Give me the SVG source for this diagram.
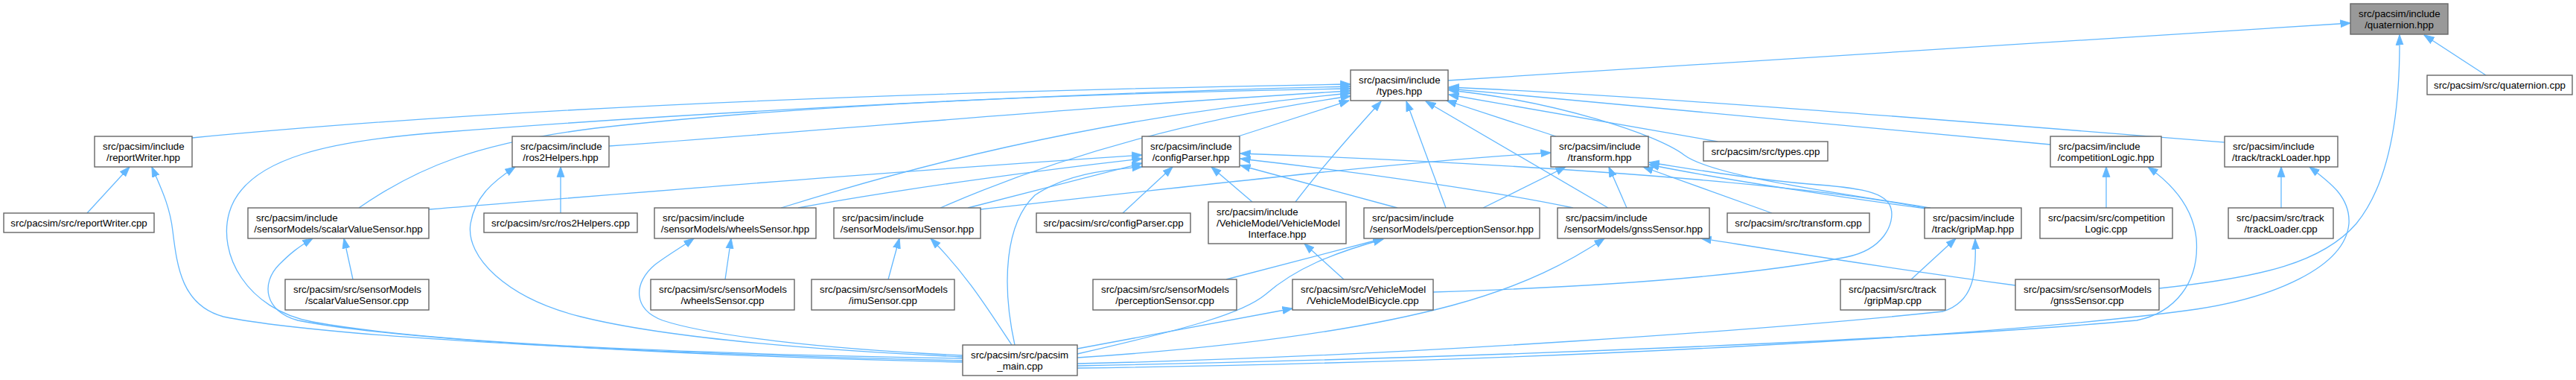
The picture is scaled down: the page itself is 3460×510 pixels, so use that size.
<svg xmlns="http://www.w3.org/2000/svg" width="3460" height="510" viewBox="0 0 3460 510">
<style>
.n rect{fill:#ffffff;stroke:#666666;stroke-width:1.4}
.root rect{fill:#999999}
.n text{font-family:"Liberation Sans",Arial,Helvetica,sans-serif;font-size:13.33px;fill:#000000}
.c{text-anchor:middle}
.e path{fill:none;stroke:#63b8ff;stroke-width:1.3;marker-end:url(#arr)}
</style>
<defs>
<marker id="arr" markerUnits="userSpaceOnUse" markerWidth="14" markerHeight="12" viewBox="0 0 14 12" refX="13.5" refY="6" orient="auto">
<path d="M0,1 L14,6 L0,11 z" fill="#63b8ff" stroke="#63b8ff" stroke-width="0.8"/>
</marker>
</defs>
<rect width="3460" height="510" fill="#ffffff"/>
<g id="edges" class="e">
<path d="M1945,108 L3157,31"/>
<path d="M3339,101 L3256,47"/>
<path d="M2900,387 C3040,372 3120,352 3165,300 C3210,245 3224,150 3223,47"/>
<path d="M258,185 C600,152 1100,125 1814,113"/>
<path d="M1293,481 C1000,476 600,465 420,432 C330,415 292,340 308,285 C330,210 450,188 600,177 C950,150 1450,124 1814,116"/>
<path d="M482,279 C560,225 640,192 800,172 C1100,138 1500,124 1814,119"/>
<path d="M818,196 C1150,172 1500,140 1814,122"/>
<path d="M1049,279 C1200,232 1450,160 1814,125"/>
<path d="M1263,279 C1380,228 1560,165 1814,129"/>
<path d="M1663,183 L1812,135"/>
<path d="M1740,271 C1775,225 1815,180 1855,136"/>
<path d="M1942,279 L1889,136"/>
<path d="M2160,279 L1915,136"/>
<path d="M2090,183 L1943,135"/>
<path d="M2307,190 L1946,127"/>
<path d="M2593,279 C2450,256 2300,236 2262,208 C2225,180 2090,136 1946,121"/>
<path d="M2754,194 L1946,119"/>
<path d="M2988,191 C2600,160 2200,128 1946,117"/>
<path d="M576,281 C900,255 1200,230 1534,208"/>
<path d="M1072,279 C1200,255 1400,228 1534,213"/>
<path d="M1300,279 L1534,219"/>
<path d="M1363,463 C1345,380 1350,300 1390,262 C1430,235 1480,228 1534,224"/>
<path d="M1508,286 L1575,224"/>
<path d="M1682,271 L1627,224"/>
<path d="M1877,279 L1666,222"/>
<path d="M2113,279 C2000,255 1800,228 1666,213"/>
<path d="M2590,280 C2400,242 2000,218 1666,206"/>
<path d="M1317,281 C1600,250 1900,215 2083,205"/>
<path d="M1992,279 L2103,224"/>
<path d="M2185,279 L2161,224"/>
<path d="M2380,286 L2207,224"/>
<path d="M2595,281 C2450,262 2300,238 2215,221"/>
<path d="M1925,392 C2150,385 2350,370 2480,345 C2530,335 2545,300 2540,280 C2535,258 2500,252 2430,247 C2350,240 2280,228 2215,218"/>
<path d="M1805,375 L1752,327"/>
<path d="M1647,375 L1858,320"/>
<path d="M1447,475 C1600,440 1670,420 1700,395 C1740,360 1790,340 1858,321"/>
<path d="M1447,480 C1600,470 1800,450 1950,410 C2050,383 2110,350 2155,320"/>
<path d="M2707,383 C2500,355 2350,330 2285,320"/>
<path d="M1447,468 L1736,414"/>
<path d="M2567,375 L2627,320"/>
<path d="M1447,488 C1900,478 2400,440 2610,418 C2650,405 2655,370 2653,321"/>
<path d="M2829,279 L2829,224"/>
<path d="M1447,491 C2000,480 2600,455 2870,430 C2920,420 2955,380 2950,320 C2945,275 2915,245 2885,224"/>
<path d="M1447,494 C2100,485 2700,450 2950,415 C3050,400 3150,360 3155,300 C3157,265 3130,245 3102,224"/>
<path d="M3064,279 L3064,224"/>
<path d="M117,286 L174,224"/>
<path d="M1293,484 C900,475 450,455 300,425 C245,410 238,360 232,310 C228,275 215,250 204,224"/>
<path d="M474,375 L462,320"/>
<path d="M1293,486 C1000,480 550,460 400,430 C355,418 350,380 375,355 C390,340 400,332 420,320"/>
<path d="M753,286 L753,224"/>
<path d="M1293,479 C1100,470 900,455 780,425 C680,400 625,345 632,300 C638,265 660,245 692,224"/>
<path d="M974,375 L982,320"/>
<path d="M1293,477 C1100,468 950,450 890,430 C850,415 850,380 880,355 C900,340 915,332 932,320"/>
<path d="M1193,375 L1208,320"/>
<path d="M1359,463 C1330,420 1300,370 1250,320"/>
</g>
<g id="node-quaternion-hpp" class="n root"><rect x="3157" y="5" width="131" height="41"/><text x="3168" y="23">src/pacsim/include</text><text class="c" x="3222.5" y="38">/quaternion.hpp</text></g>
<g id="node-types-hpp" class="n"><rect x="1814" y="94" width="131" height="41"/><text x="1825" y="112">src/pacsim/include</text><text class="c" x="1879.5" y="127">/types.hpp</text></g>
<g id="node-quaternion-cpp" class="n"><rect x="3260" y="101" width="195" height="26"/><text class="c" x="3357.5" y="118.5">src/pacsim/src/quaternion.cpp</text></g>
<g id="node-reportWriter-hpp" class="n"><rect x="127" y="183" width="131" height="41"/><text x="138" y="201">src/pacsim/include</text><text class="c" x="192.5" y="216">/reportWriter.hpp</text></g>
<g id="node-ros2Helpers-hpp" class="n"><rect x="688" y="183" width="130" height="41"/><text x="699" y="201">src/pacsim/include</text><text class="c" x="753" y="216">/ros2Helpers.hpp</text></g>
<g id="node-configParser-hpp" class="n"><rect x="1534" y="183" width="131" height="41"/><text x="1545" y="201">src/pacsim/include</text><text class="c" x="1599.5" y="216">/configParser.hpp</text></g>
<g id="node-transform-hpp" class="n"><rect x="2083" y="183" width="131" height="41"/><text x="2094" y="201">src/pacsim/include</text><text class="c" x="2148.5" y="216">/transform.hpp</text></g>
<g id="node-types-cpp" class="n"><rect x="2288" y="190" width="167" height="26"/><text class="c" x="2371.5" y="207.5">src/pacsim/src/types.cpp</text></g>
<g id="node-competitionLogic-hpp" class="n"><rect x="2754" y="183" width="149" height="41"/><text x="2765" y="201">src/pacsim/include</text><text class="c" x="2828.5" y="216">/competitionLogic.hpp</text></g>
<g id="node-trackLoader-hpp" class="n"><rect x="2988" y="183" width="152" height="41"/><text x="2999" y="201">src/pacsim/include</text><text class="c" x="3064" y="216">/track/trackLoader.hpp</text></g>
<g id="node-reportWriter-cpp" class="n"><rect x="5" y="286" width="202" height="26"/><text class="c" x="106" y="303.5">src/pacsim/src/reportWriter.cpp</text></g>
<g id="node-scalarValueSensor-hpp" class="n"><rect x="333" y="279" width="243" height="41"/><text x="344" y="297">src/pacsim/include</text><text class="c" x="454.5" y="312">/sensorModels/scalarValueSensor.hpp</text></g>
<g id="node-ros2Helpers-cpp" class="n"><rect x="650" y="286" width="206" height="26"/><text class="c" x="753" y="303.5">src/pacsim/src/ros2Helpers.cpp</text></g>
<g id="node-wheelsSensor-hpp" class="n"><rect x="879" y="279" width="217" height="41"/><text x="890" y="297">src/pacsim/include</text><text class="c" x="987.5" y="312">/sensorModels/wheelsSensor.hpp</text></g>
<g id="node-imuSensor-hpp" class="n"><rect x="1120" y="279" width="197" height="41"/><text x="1131" y="297">src/pacsim/include</text><text class="c" x="1218.5" y="312">/sensorModels/imuSensor.hpp</text></g>
<g id="node-configParser-cpp" class="n"><rect x="1392" y="286" width="207" height="26"/><text class="c" x="1495.5" y="303.5">src/pacsim/src/configParser.cpp</text></g>
<g id="node-VehicleModelInterface-hpp" class="n"><rect x="1623" y="271" width="185" height="56"/><text x="1634" y="289">src/pacsim/include</text><text x="1634" y="304">/VehicleModel/VehicleModel</text><text class="c" x="1715.5" y="319">Interface.hpp</text></g>
<g id="node-perceptionSensor-hpp" class="n"><rect x="1832" y="279" width="236" height="41"/><text x="1843" y="297">src/pacsim/include</text><text class="c" x="1950" y="312">/sensorModels/perceptionSensor.hpp</text></g>
<g id="node-gnssSensor-hpp" class="n"><rect x="2092" y="279" width="204" height="41"/><text x="2103" y="297">src/pacsim/include</text><text class="c" x="2194" y="312">/sensorModels/gnssSensor.hpp</text></g>
<g id="node-transform-cpp" class="n"><rect x="2320" y="286" width="191" height="26"/><text class="c" x="2415.5" y="303.5">src/pacsim/src/transform.cpp</text></g>
<g id="node-gripMap-hpp" class="n"><rect x="2585" y="279" width="130" height="41"/><text x="2596" y="297">src/pacsim/include</text><text class="c" x="2650" y="312">/track/gripMap.hpp</text></g>
<g id="node-competitionLogic-cpp" class="n"><rect x="2740" y="279" width="178" height="41"/><text x="2751" y="297">src/pacsim/src/competition</text><text class="c" x="2829" y="312">Logic.cpp</text></g>
<g id="node-trackLoader-cpp" class="n"><rect x="2993" y="279" width="141" height="41"/><text x="3004" y="297">src/pacsim/src/track</text><text class="c" x="3063.5" y="312">/trackLoader.cpp</text></g>
<g id="node-scalarValueSensor-cpp" class="n"><rect x="383" y="375" width="193" height="41"/><text x="394" y="393">src/pacsim/src/sensorModels</text><text class="c" x="479.5" y="408">/scalarValueSensor.cpp</text></g>
<g id="node-wheelsSensor-cpp" class="n"><rect x="874" y="375" width="193" height="41"/><text x="885" y="393">src/pacsim/src/sensorModels</text><text class="c" x="970.5" y="408">/wheelsSensor.cpp</text></g>
<g id="node-imuSensor-cpp" class="n"><rect x="1090" y="375" width="192" height="41"/><text x="1101" y="393">src/pacsim/src/sensorModels</text><text class="c" x="1186" y="408">/imuSensor.cpp</text></g>
<g id="node-perceptionSensor-cpp" class="n"><rect x="1468" y="375" width="193" height="41"/><text x="1479" y="393">src/pacsim/src/sensorModels</text><text class="c" x="1564.5" y="408">/perceptionSensor.cpp</text></g>
<g id="node-VehicleModelBicycle-cpp" class="n"><rect x="1736" y="375" width="189" height="41"/><text x="1747" y="393">src/pacsim/src/VehicleModel</text><text class="c" x="1830.5" y="408">/VehicleModelBicycle.cpp</text></g>
<g id="node-gripMap-cpp" class="n"><rect x="2472" y="375" width="141" height="41"/><text x="2483" y="393">src/pacsim/src/track</text><text class="c" x="2542.5" y="408">/gripMap.cpp</text></g>
<g id="node-gnssSensor-cpp" class="n"><rect x="2707" y="375" width="193" height="41"/><text x="2718" y="393">src/pacsim/src/sensorModels</text><text class="c" x="2803.5" y="408">/gnssSensor.cpp</text></g>
<g id="node-pacsim-main-cpp" class="n"><rect x="1293" y="463" width="154" height="41"/><text x="1304" y="481">src/pacsim/src/pacsim</text><text class="c" x="1370" y="496">_main.cpp</text></g>
</svg>
